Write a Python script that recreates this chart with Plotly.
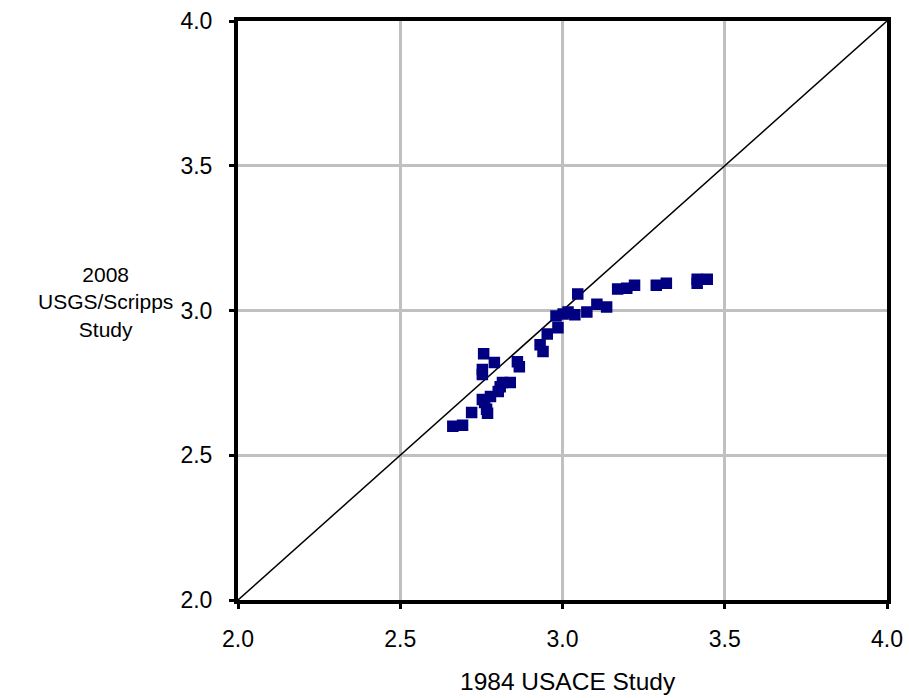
import plotly.graph_objects as go

# 1984 USACE Study (x) vs 2008 USGS/Scripps Study (y)
usace_1984 = [2.662, 2.692, 2.720, 2.757, 2.753, 2.753, 2.790, 2.867, 2.861, 2.815,
              2.839, 2.802, 2.778, 2.753, 2.766, 2.769, 2.931, 2.940, 2.953, 2.986,
              2.980, 3.002, 3.017, 3.038, 3.047, 3.075, 3.106, 3.136, 3.170, 3.198,
              3.222, 3.289, 3.320, 3.415, 3.446, 3.415, 2.760, 2.808]
usgs_2008 = [2.600, 2.604, 2.648, 2.851, 2.796, 2.779, 2.820, 2.806, 2.823, 2.751,
             2.751, 2.720, 2.703, 2.693, 2.659, 2.645, 2.882, 2.858, 2.919, 2.940,
             2.981, 2.988, 2.995, 2.985, 3.057, 2.995, 3.022, 3.012, 3.074, 3.077,
             3.087, 3.087, 3.094, 3.108, 3.108, 3.094, 2.682, 2.737]

one_to_one = [2.0, 4.0]
tick_vals = [2.0, 2.5, 3.0, 3.5, 4.0]
tick_text = ["2.0", "2.5", "3.0", "3.5", "4.0"]

FONT = "Liberation Sans, Arial, sans-serif"

fig = go.Figure()
fig.add_trace(go.Scatter(x=one_to_one, y=one_to_one, mode="lines",
                         line=dict(color="black", width=1.5), hoverinfo="skip",
                         showlegend=False))
fig.add_trace(go.Scatter(x=usace_1984, y=usgs_2008, mode="markers",
                         marker=dict(symbol="square", size=9, color="#000080",
                                     line=dict(color="#000080", width=2.5)),
                         showlegend=False))

axis_common = dict(range=[2.0, 4.0], tickvals=tick_vals, ticktext=tick_text,
                   showgrid=True, gridcolor="#c0c0c0", gridwidth=3,
                   showline=True, linecolor="black", linewidth=4, mirror=True,
                   ticks="outside", ticklen=5, tickwidth=3, tickcolor="black",
                   zeroline=False, automargin=False,
                   tickfont=dict(family=FONT, size=23, color="black"))

fig.update_xaxes(**axis_common, ticklabelstandoff=10)
fig.update_yaxes(**axis_common, ticklabelstandoff=12)

fig.update_layout(
    width=909, height=698,
    margin=dict(l=238, r=22, t=21, b=98),
    paper_bgcolor="white", plot_bgcolor="white",
    font=dict(family=FONT, color="black"),
    annotations=[
        dict(text="2008<br>USGS/Scripps<br>Study", xref="paper", yref="paper",
             x=-0.204, y=0.515, xanchor="center", yanchor="middle",
             showarrow=False, font=dict(family=FONT, size=21, color="black")),
        dict(text="1984 USACE Study", xref="paper", yref="paper",
             x=0.509, y=-0.141, xanchor="center", yanchor="middle",
             showarrow=False, font=dict(family=FONT, size=24.5, color="black")),
    ],
)

fig.write_html("out.html", config={"displayModeBar": False},
               post_script="document.body.style.margin='0';document.body.style.overflow='hidden';")
